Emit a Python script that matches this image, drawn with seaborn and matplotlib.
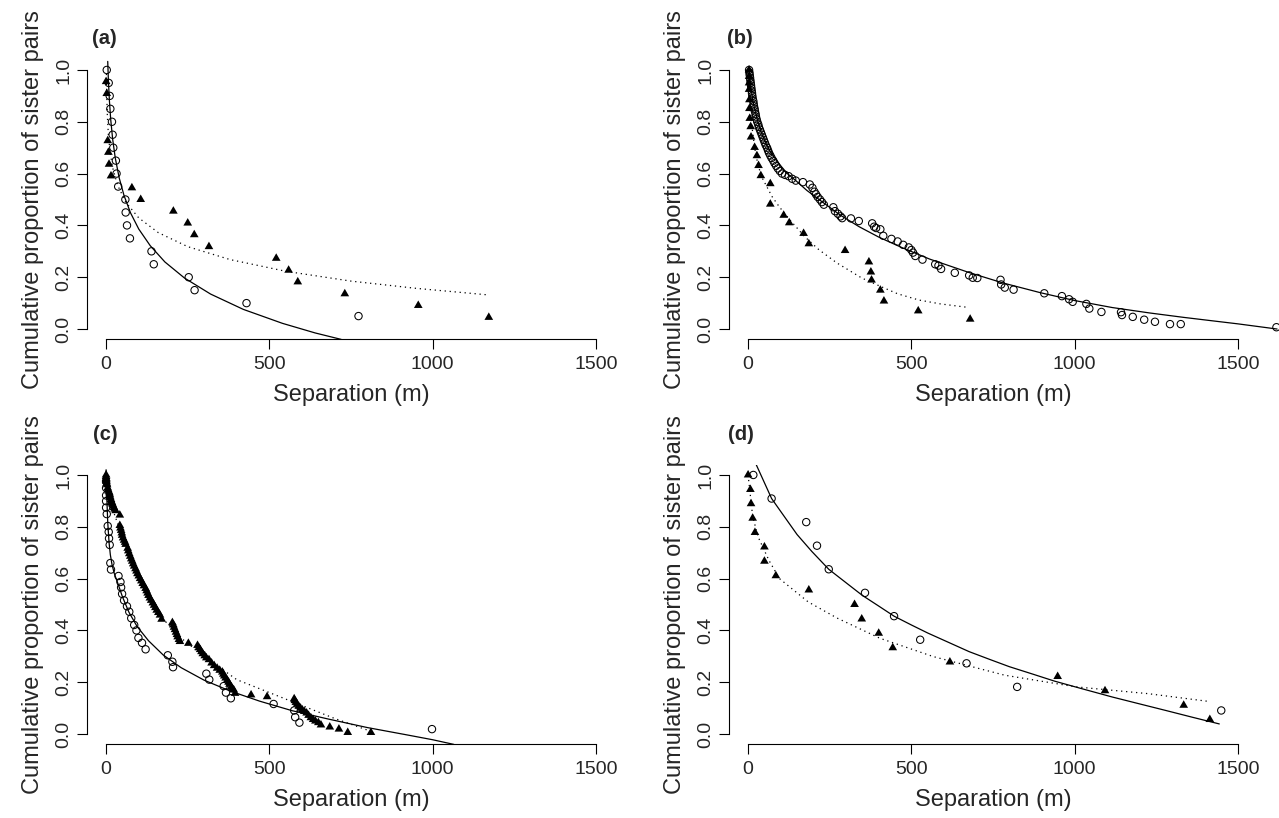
import numpy as np
import pandas as pd
import seaborn as sns
import matplotlib.pyplot as plt

sns.set_style("white")
plt.rcParams['font.family'] = ['Liberation Sans', 'DejaVu Sans']

# ---------------- panel (a) ----------------
a_circle_x = [2, 8, 11, 13, 18, 20, 22, 30, 32, 37, 59, 60, 64, 73, 139, 146, 253, 271, 430, 773]
a_circle_y = [1.00, 0.95, 0.90, 0.85, 0.80, 0.75, 0.70, 0.65, 0.60, 0.55, 0.50, 0.45, 0.40, 0.35,
              0.30, 0.25, 0.20, 0.15, 0.10, 0.05]
a_tri_x = [0, 2, 5, 7, 9, 15, 79, 106, 206, 250, 270, 315, 521, 559, 587, 731, 956, 1172]
a_tri_y = [0.955, 0.909, 0.727, 0.682, 0.636, 0.591, 0.545, 0.500, 0.455, 0.409, 0.364, 0.318,
           0.273, 0.227, 0.182, 0.136, 0.091, 0.045]
a_solid_x = [5, 7, 10, 14, 20, 28, 40, 55, 75, 100, 135, 180, 240, 320, 420, 540, 640, 720]
a_solid_y = [1.033, 0.961, 0.884, 0.811, 0.734, 0.661, 0.584, 0.515, 0.448, 0.386, 0.322, 0.259,
             0.197, 0.135, 0.076, 0.022, -0.015, -0.040]
a_dot_x = [1, 2, 4, 7, 12, 20, 35, 60, 100, 160, 250, 380, 550, 750, 950, 1168]
a_dot_y = [0.985, 0.901, 0.818, 0.750, 0.685, 0.623, 0.556, 0.490, 0.429, 0.372, 0.318, 0.268,
           0.223, 0.185, 0.157, 0.132]

# ---------------- panel (b) ----------------
b_circle_x = [3, 4, 5, 6, 7, 8, 9, 10, 11, 12, 13, 14, 16, 17, 18, 20, 21, 23, 24, 26, 28, 31, 33,
              36, 39, 42, 45, 48, 51, 54, 58, 61, 64, 68, 72, 77, 81, 86, 91, 97, 104, 113, 124,
              135, 146, 168, 189, 197, 203, 208, 213, 220, 226, 232, 261, 266, 275, 283, 288, 315,
              339, 380, 386, 392, 405, 414, 439, 458, 475, 492, 500, 505, 512, 534, 573, 583, 591,
              633, 677, 688, 702, 773, 775, 786, 813, 907, 961, 983, 994, 1036, 1045, 1082, 1142,
              1145, 1178, 1213, 1246, 1292, 1325, 1618]
b_circle_y = [1.00, 0.99, 0.98, 0.97, 0.96, 0.95, 0.94, 0.93, 0.92, 0.91, 0.90, 0.89, 0.88, 0.87,
              0.86, 0.85, 0.84, 0.83, 0.82, 0.81, 0.80, 0.79, 0.78, 0.77, 0.76, 0.75, 0.74, 0.73,
              0.72, 0.71, 0.70, 0.69, 0.68, 0.67, 0.66, 0.65, 0.64, 0.63, 0.62, 0.61, 0.60, 0.595,
              0.59, 0.58, 0.573, 0.567, 0.558, 0.545, 0.530, 0.520, 0.510, 0.500, 0.490, 0.480,
              0.470, 0.455, 0.445, 0.435, 0.428, 0.427, 0.417, 0.408, 0.395, 0.390, 0.385, 0.360,
              0.348, 0.338, 0.325, 0.315, 0.305, 0.295, 0.282, 0.268, 0.250, 0.245, 0.232, 0.217,
              0.207, 0.198, 0.197, 0.190, 0.172, 0.160, 0.152, 0.138, 0.127, 0.115, 0.105, 0.097,
              0.079, 0.066, 0.065, 0.054, 0.047, 0.036, 0.028, 0.019, 0.019, 0.007]
b_tri_x = [3, 3, 3, 3, 4, 4, 5, 8, 9, 20, 27, 32, 39, 68, 68, 109, 126, 170, 186, 297, 370, 376,
           378, 405, 416, 521, 680]
b_tri_y = [1.000, 0.975, 0.950, 0.925, 0.885, 0.851, 0.813, 0.781, 0.741, 0.701, 0.669, 0.631,
           0.592, 0.561, 0.482, 0.439, 0.410, 0.369, 0.329, 0.303, 0.259, 0.220, 0.189, 0.150,
           0.108, 0.070, 0.038]
b_solid_x = [3, 6, 10, 15, 20, 30, 40, 55, 70, 85, 100, 120, 146, 180, 228, 282, 340, 400, 470,
             556, 677, 780, 896, 1000, 1115, 1230, 1334, 1420, 1500, 1620]
b_solid_y = [1.00, 0.96, 0.92, 0.88, 0.85, 0.80, 0.76, 0.715, 0.68, 0.655, 0.63, 0.60, 0.573,
             0.535, 0.49, 0.44, 0.395, 0.355, 0.315, 0.27, 0.218, 0.178, 0.140, 0.110, 0.083,
             0.062, 0.045, 0.032, 0.020, 0.0]
b_dot_x = [2, 5, 10, 20, 30, 42, 58, 74, 96, 129, 173, 217, 272, 348, 403, 458, 523, 589, 677]
b_dot_y = [1.00, 0.88, 0.80, 0.70, 0.635, 0.586, 0.548, 0.510, 0.471, 0.420, 0.357, 0.306,
           0.255, 0.197, 0.166, 0.136, 0.112, 0.097, 0.083]

# ---------------- panel (c) ----------------
c_circle_x = [0, 0, 0, 0, 0, 2, 5, 8, 9, 11, 13, 15, 38, 44, 46, 49, 55, 64, 71, 77, 86, 93, 99,
              110, 121, 189, 203, 205, 307, 316, 360, 367, 382, 513, 576, 579, 592, 998]
c_circle_y = [0.975, 0.950, 0.921, 0.899, 0.874, 0.849, 0.803, 0.780, 0.755, 0.730, 0.660, 0.635,
              0.610, 0.587, 0.566, 0.541, 0.516, 0.493, 0.472, 0.447, 0.421, 0.400, 0.371, 0.352,
              0.327, 0.304, 0.279, 0.258, 0.233, 0.210, 0.185, 0.160, 0.138, 0.116, 0.091, 0.065,
              0.044, 0.019]
c_tri_x = [0, 0, 0, 0, 1, 2, 3, 5, 6, 8, 10, 11, 12, 13, 15, 16, 18, 20, 22, 24, 26, 29, 42, 42,
           44, 46, 48, 49, 52, 55, 58, 60, 66, 68, 71, 74, 77, 80, 83, 86, 90, 93, 96, 100, 104,
           108, 112, 116, 121, 124, 127, 130, 134, 138, 143, 147, 151, 155, 160, 165, 170, 203,
           206, 208, 211, 214, 217, 219, 223, 226, 252, 280, 284, 288, 292, 296, 302, 307, 315,
           323, 331, 340, 348, 356, 359, 362, 366, 371, 375, 378, 383, 387, 391, 395, 444, 493,
           576, 578, 581, 585, 590, 595, 601, 607, 614, 620, 627, 634, 641, 650, 658, 685, 713,
           740, 811]
c_tri_y = [1.000, 0.994, 0.987, 0.981, 0.975, 0.968, 0.962, 0.950, 0.944, 0.937, 0.931, 0.925,
           0.918, 0.912, 0.905, 0.899, 0.893, 0.887, 0.880, 0.874, 0.868, 0.862, 0.845, 0.805,
           0.795, 0.786, 0.776, 0.767, 0.757, 0.748, 0.740, 0.732, 0.717, 0.707, 0.696, 0.686,
           0.676, 0.667, 0.657, 0.648, 0.638, 0.629, 0.619, 0.610, 0.600, 0.591, 0.581, 0.572,
           0.562, 0.553, 0.544, 0.535, 0.525, 0.516, 0.506, 0.497, 0.488, 0.478, 0.469, 0.459,
           0.443, 0.430, 0.421, 0.412, 0.403, 0.393, 0.384, 0.375, 0.365, 0.357, 0.350, 0.342,
           0.333, 0.326, 0.318, 0.310, 0.302, 0.294, 0.287, 0.274, 0.264, 0.254, 0.246, 0.239,
           0.231, 0.224, 0.216, 0.208, 0.200, 0.192, 0.182, 0.176, 0.170, 0.157, 0.151, 0.144,
           0.136, 0.129, 0.122, 0.115, 0.107, 0.100, 0.093, 0.087, 0.081, 0.072, 0.063, 0.056,
           0.050, 0.044, 0.035, 0.027, 0.019, 0.006, 0.006]
c_solid_x = [0, 2, 5, 9, 13, 18, 25, 35, 50, 70, 95, 130, 175, 230, 300, 380, 470, 570, 680,
             800, 920, 1000, 1065]
c_solid_y = [1.02, 0.92, 0.818, 0.74, 0.692, 0.655, 0.62, 0.585, 0.53, 0.47, 0.415, 0.36, 0.305,
             0.256, 0.208, 0.166, 0.127, 0.090, 0.058, 0.025, -0.003, -0.022, -0.040]
c_dot_x = [0, 10, 25, 50, 80, 120, 170, 230, 300, 400, 500, 600, 700, 812]
c_dot_y = [1.00, 0.92, 0.85, 0.76, 0.66, 0.55, 0.45, 0.37, 0.30, 0.21, 0.16, 0.11, 0.06, 0.01]

# ---------------- panel (d) ----------------
d_circle_x = [16, 72, 178, 211, 247, 358, 447, 527, 669, 824, 1449]
d_circle_y = [1.000, 0.909, 0.818, 0.727, 0.636, 0.545, 0.455, 0.364, 0.273, 0.182, 0.091]
d_tri_x = [0, 7, 9, 14, 21, 50, 50, 85, 186, 326, 348, 400, 443, 618, 948, 1093, 1334, 1414]
d_tri_y = [1.000, 0.944, 0.889, 0.833, 0.778, 0.722, 0.667, 0.611, 0.556, 0.500, 0.444, 0.389,
           0.333, 0.278, 0.222, 0.167, 0.111, 0.056]
d_solid_x = [23, 45, 72, 100, 150, 195, 247, 300, 350, 400, 447, 500, 550, 610, 677, 740, 800,
             870, 939, 1025, 1115, 1200, 1279, 1360, 1443]
d_solid_y = [1.045, 0.984, 0.909, 0.859, 0.770, 0.705, 0.636, 0.584, 0.535, 0.494, 0.455, 0.421,
             0.390, 0.356, 0.318, 0.288, 0.260, 0.232, 0.204, 0.174, 0.143, 0.116, 0.091, 0.065,
             0.039]
d_dot_x = [0, 14, 31, 64, 96, 184, 272, 403, 567, 786, 1005, 1224, 1410]
d_dot_y = [1.00, 0.84, 0.76, 0.67, 0.60, 0.51, 0.448, 0.37, 0.299, 0.227, 0.182, 0.156, 0.126]

x_ticks = [0, 500, 1000, 1500]
x_tick_labels = ["0", "500", "1000", "1500"]
y_ticks = [0.0, 0.2, 0.4, 0.6, 0.8, 1.0]
y_tick_labels = ["0.0", "0.2", "0.4", "0.6", "0.8", "1.0"]
panel_tags = ["(a)", "(b)", "(c)", "(d)"]
x_label = "Separation (m)"
y_label = "Cumulative proportion of sister pairs"

W, H = 1279, 818
fig = plt.figure(figsize=(W / 100, H / 100), dpi=100)


def px_rect(left, top, bottom, width=529):
    return [left / W, 1 - bottom / H, width / W, (bottom - top) / H]


def draw_panel(ax, cx, cy, tx, ty, sx, sy, dx, dy, clip=True):
    sns.lineplot(x=sx, y=sy, ax=ax, color='black', lw=0.9, sort=False, estimator=None,
                 clip_on=clip)
    sns.lineplot(x=dx, y=dy, ax=ax, color='black', lw=0.9, ls=':', sort=False, estimator=None,
                 clip_on=clip)
    ax.get_lines()[-1].set_dashes([1, 3])
    sns.scatterplot(x=tx, y=ty, ax=ax, marker=(3, 0, 0), s=52, color='black', edgecolor='none',
                    linewidth=0, clip_on=clip, zorder=3)
    sns.scatterplot(x=cx, y=cy, ax=ax, marker='o', s=28, facecolor='none', edgecolor='black',
                    linewidth=0.75, clip_on=clip, zorder=4)

    ax.set_xlim(-60, 1560)
    ax.set_ylim(-0.04, 1.04)
    for side in ['top', 'right']:
        ax.spines[side].set_visible(False)
    for side in ['left', 'bottom']:
        ax.spines[side].set_linewidth(0.8)
        ax.spines[side].set_color('black')
    ax.spines['left'].set_bounds(0, 1)
    ax.spines['bottom'].set_bounds(0, 1500)
    ax.set_xticks(x_ticks)
    ax.set_xticklabels(x_tick_labels)
    ax.set_yticks(y_ticks)
    ax.set_yticklabels(y_tick_labels, rotation=90, va='center')
    ax.tick_params(axis='both', direction='out', length=7, width=0.8, color='black',
                   labelsize=14, left=True, bottom=True)
    ax.tick_params(axis='x', pad=5)
    ax.tick_params(axis='y', pad=3)
    ax.set_xlabel(x_label, fontsize=17, labelpad=8)
    ax.set_ylabel(y_label, fontsize=17, labelpad=8)
    ax.grid(False)


ax_a = fig.add_axes(px_rect(86.5, 59.6, 339.4))
ax_b = fig.add_axes(px_rect(728.5, 59.6, 339.4))
ax_c = fig.add_axes(px_rect(86.5, 464.6, 744.4))
ax_d = fig.add_axes(px_rect(728.5, 464.6, 744.4))

draw_panel(ax_a, a_circle_x, a_circle_y, a_tri_x, a_tri_y, a_solid_x, a_solid_y, a_dot_x, a_dot_y)
draw_panel(ax_b, b_circle_x, b_circle_y, b_tri_x, b_tri_y, b_solid_x, b_solid_y, b_dot_x, b_dot_y,
           clip=False)
draw_panel(ax_c, c_circle_x, c_circle_y, c_tri_x, c_tri_y, c_solid_x, c_solid_y, c_dot_x, c_dot_y)
draw_panel(ax_d, d_circle_x, d_circle_y, d_tri_x, d_tri_y, d_solid_x, d_solid_y, d_dot_x, d_dot_y)

tag_pos = [(92, 38), (727, 38), (93, 435), (728, 435)]
for tag, (tx, ty) in zip(panel_tags, tag_pos):
    fig.text(tx / W, 1 - ty / H, tag, fontsize=14.5, fontweight='bold', ha='left', va='center')

fig.savefig("out.png", dpi=100)
